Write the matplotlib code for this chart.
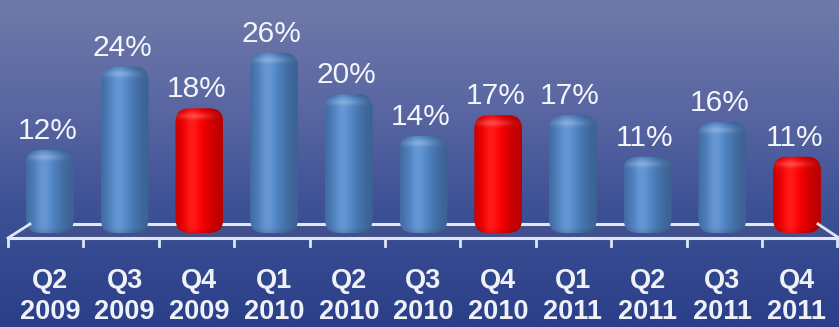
import numpy as np
import matplotlib
matplotlib.use('Agg')
import matplotlib.pyplot as plt
from matplotlib.patches import FancyBboxPatch, Polygon
from matplotlib.colors import to_rgb, LinearSegmentedColormap
import matplotlib.transforms as mtransforms

# ---- data ----
quarters = ['Q2', 'Q3', 'Q4', 'Q1', 'Q2', 'Q3', 'Q4', 'Q1', 'Q2', 'Q3', 'Q4']
years = ['2009', '2009', '2009', '2010', '2010', '2010', '2010', '2011', '2011', '2011', '2011']
values = [12, 24, 18, 26, 20, 14, 17, 17, 11, 16, 11]
is_q4 = [q == 'Q4' for q in quarters]

BLUE = '#4f81c0'
RED = '#f20000'

W, H, DPI = 839, 327, 100
fig = plt.figure(figsize=(W / DPI, H / DPI), dpi=DPI)
ax = fig.add_axes([0, 0, 1, 1])
ax.set_axis_off()

# layout scale (pixels per data unit)
PX_X = 74.7
X0PX = 50
PX_Y = 6.93
BASE_PX = 233  # from top

def fx(px):
    return (px - X0PX) / PX_X

def fy(py):
    return (BASE_PX - py) / PX_Y

xlim = (fx(0), fx(W))
ylim = (fy(H), fy(0))

# background gradient
bg = LinearSegmentedColormap.from_list('bg', ['#2a3f88', '#3b4f94', '#5966a2', '#6f7aa9'])
grad = np.linspace(0, 1, 256).reshape(-1, 1)
ax.imshow(grad, extent=[0, 1, 0, 1], transform=ax.transAxes, origin='lower',
          aspect='auto', cmap=bg, zorder=0, interpolation='bilinear')

# floor
floor = Polygon([(fx(8), fy(238)), (fx(30), fy(224)), (fx(818), fy(224)), (fx(839), fy(238))],
                closed=True, facecolor='#4a5588', edgecolor='none', alpha=0.55, zorder=1)
ax.add_patch(floor)
lc = '#dfe6f5'
ax.plot([fx(30), fx(818)], [fy(224), fy(224)], color=lc, lw=2.2, zorder=1.5, solid_capstyle='butt')
ax.plot([fx(8), fx(839)], [fy(238), fy(238)], color=lc, lw=2.2, zorder=4, solid_capstyle='butt')
ax.plot([fx(8), fx(30)], [fy(238), fy(224)], color=lc, lw=2.0, zorder=4)
ax.plot([fx(818), fx(839)], [fy(224), fy(238)], color=lc, lw=2.0, zorder=4)
tick_step = 75.4
for k in range(len(values) + 1):
    tx = fx(8 + k * tick_step)
    ax.plot([tx, tx], [fy(238), fy(246)], color=lc, lw=2.0, zorder=4)

# bars
x = np.arange(len(values))
bars = ax.bar(x, values, width=0.64, color='none', edgecolor='none', zorder=3)

def bar_image(base, h_data):
    nx = 64
    ny = max(int(h_data * PX_Y), 2)
    t = (np.arange(nx) + 0.5) / nx
    d = (ny - np.arange(ny) - 0.5)[:, None]  # distance from top in px
    b = np.array(to_rgb(base))
    prof = np.exp(-((t - 0.40) / 0.36) ** 2)
    shade = 0.74 + 0.34 * prof
    img = np.clip(b[None, None, :] * shade[None, :, None], 0, 1)
    img = np.repeat(img, ny, axis=0)
    spec = 0.10 * np.exp(-((t - 0.36) / 0.14) ** 2)
    img = img + (1 - img) * spec[None, :, None]
    cap = np.exp(-((d - 8.0) / 3.0) ** 2) * (0.22 * prof[None, :])
    img = img + (1 - img) * cap[:, :, None]
    top = np.clip(1 - d / 4.0, 0, 1) * 0.15
    img = img * (1 - top[:, :, None])
    bot = np.clip(1 - (ny - d) / 6.0, 0, 1) * 0.12
    img = img * (1 - bot[:, :, None])
    return np.clip(img, 0, 1)

r = 14 / PX_X
for rect, v, q4 in zip(bars.patches, values, is_q4):
    x0, w, h = rect.get_x(), rect.get_width(), rect.get_height()
    base = RED if q4 else BLUE
    clip = FancyBboxPatch((x0, 0), w, h, boxstyle=f"round,pad=0,rounding_size={r}",
                          mutation_aspect=PX_X / PX_Y, transform=ax.transData,
                          facecolor='none', edgecolor='none')
    im = ax.imshow(bar_image(base, h), extent=[x0, x0 + w, 0, h], origin='lower',
                   aspect='auto', zorder=3, interpolation='bilinear')
    im.set_clip_path(clip)

# value labels
for xi, v in zip(x, values):
    ax.annotate(f'{v}%', (xi, v), xytext=(-2, 8), textcoords='offset points',
                ha='center', va='baseline', fontsize=21.5, color='#f4f6fb',
                family='Liberation Sans', zorder=5)

# category labels
trans = mtransforms.blended_transform_factory(ax.transData, ax.transAxes)
for xi, q, yr in zip(x, quarters, years):
    ax.text(xi, (H - 281) / H, q, transform=trans, ha='center', va='center',
            fontsize=19.5, fontweight='bold', color='#eef1f8', family='Liberation Sans')
    ax.text(xi, (H - 312) / H, yr, transform=trans, ha='center', va='center',
            fontsize=19.5, fontweight='bold', color='#eef1f8', family='Liberation Sans')

ax.set_xlim(*xlim)
ax.set_ylim(*ylim)
fig.savefig('out.png', dpi=DPI)
